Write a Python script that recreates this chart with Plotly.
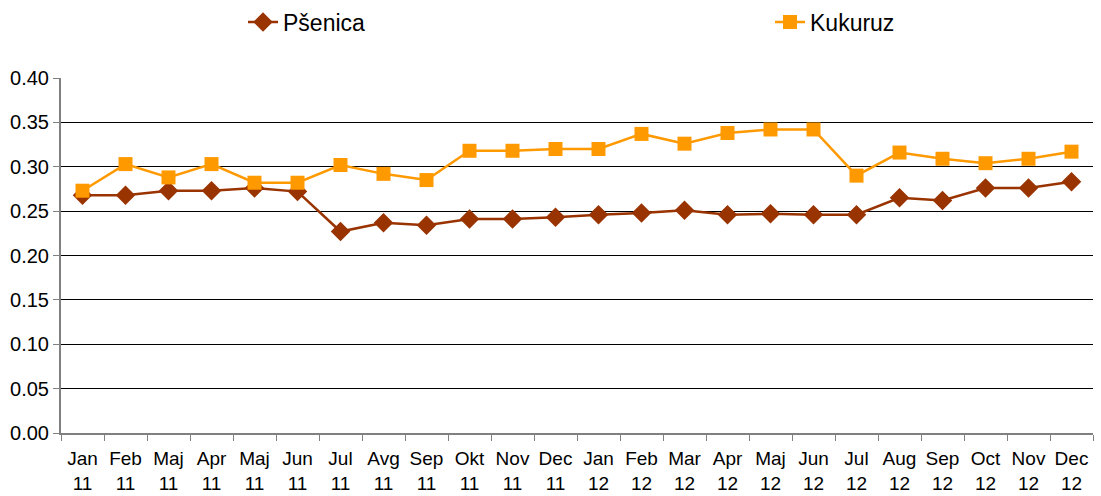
import plotly.graph_objects as go

months = ["Jan<br>11", "Feb<br>11", "Maj<br>11", "Apr<br>11", "Maj<br>11", "Jun<br>11",
          "Jul<br>11", "Avg<br>11", "Sep<br>11", "Okt<br>11", "Nov<br>11", "Dec<br>11",
          "Jan<br>12", "Feb<br>12", "Mar<br>12", "Apr<br>12", "Maj<br>12", "Jun<br>12",
          "Jul<br>12", "Aug<br>12", "Sep<br>12", "Oct<br>12", "Nov<br>12", "Dec<br>12"]

psenica = [0.268, 0.268, 0.273, 0.273, 0.276, 0.272, 0.227, 0.237, 0.234, 0.241, 0.241, 0.243,
           0.246, 0.248, 0.251, 0.246, 0.247, 0.246, 0.246, 0.265, 0.262, 0.276, 0.276, 0.283]

kukuruz = [0.273, 0.303, 0.288, 0.303, 0.282, 0.282, 0.302, 0.292, 0.285, 0.318, 0.318, 0.320,
           0.320, 0.337, 0.326, 0.338, 0.342, 0.342, 0.290, 0.316, 0.309, 0.304, 0.309, 0.317]

y_ticks = [0.0, 0.05, 0.10, 0.15, 0.20, 0.25, 0.30, 0.35, 0.40]

# duplicate month names (Maj 11 twice) -> use positions + ticktext
xpos = list(range(len(months)))

W, H = 1101, 496

fig = go.Figure()
fig.add_trace(go.Scatter(
    x=xpos, y=psenica, name="Pšenica", mode="lines+markers",
    line=dict(color="#993300", width=2.5),
    marker=dict(symbol="diamond", size=15, color="#993300"),
    legend="legend", showlegend=True,
))
fig.add_trace(go.Scatter(
    x=xpos, y=kukuruz, name="Kukuruz", mode="lines+markers",
    line=dict(color="#FF9900", width=2.5),
    marker=dict(symbol="square", size=14, color="#FF9900"),
    legend="legend2", showlegend=True,
))

leg = dict(orientation="h", xref="container", yref="container",
           xanchor="left", yanchor="middle", y=1 - 22 / H,
           font=dict(size=23), bgcolor="rgba(0,0,0,0)")

fig.update_layout(
    width=W, height=H,
    showlegend=True,
    margin=dict(l=61, r=8, t=78, b=63, autoexpand=False),
    paper_bgcolor="white", plot_bgcolor="white",
    font=dict(family="Liberation Sans, Arial, sans-serif", size=20, color="black"),
    legend=dict(leg, x=243 / W),
    legend2=dict(leg, x=770 / W),
    xaxis=dict(
        range=[-0.5, len(months) - 0.5],
        tickmode="array", tickvals=xpos, ticktext=months,
        tickfont=dict(size=19),
        ticks="", ticklabelstandoff=7, showgrid=False, zeroline=False,
        showline=True, linecolor="#808080", linewidth=2,
        minor=dict(tick0=-0.5, dtick=1, ticks="outside", ticklen=6,
                   tickcolor="#808080", showgrid=False),
    ),
    yaxis=dict(
        range=[0, 0.4], tickmode="array", tickvals=y_ticks, tickformat=".2f",
        showgrid=True, gridcolor="black", gridwidth=1,
        zeroline=False, showline=True, linecolor="#808080", linewidth=2,
        ticks="outside", ticklen=6, tickcolor="#808080",
    ),
)

# drop the default 8px body margin so the figure fills the window
fig.write_html("out.html", config={"displayModeBar": False},
               post_script="document.body.style.margin='0';")
